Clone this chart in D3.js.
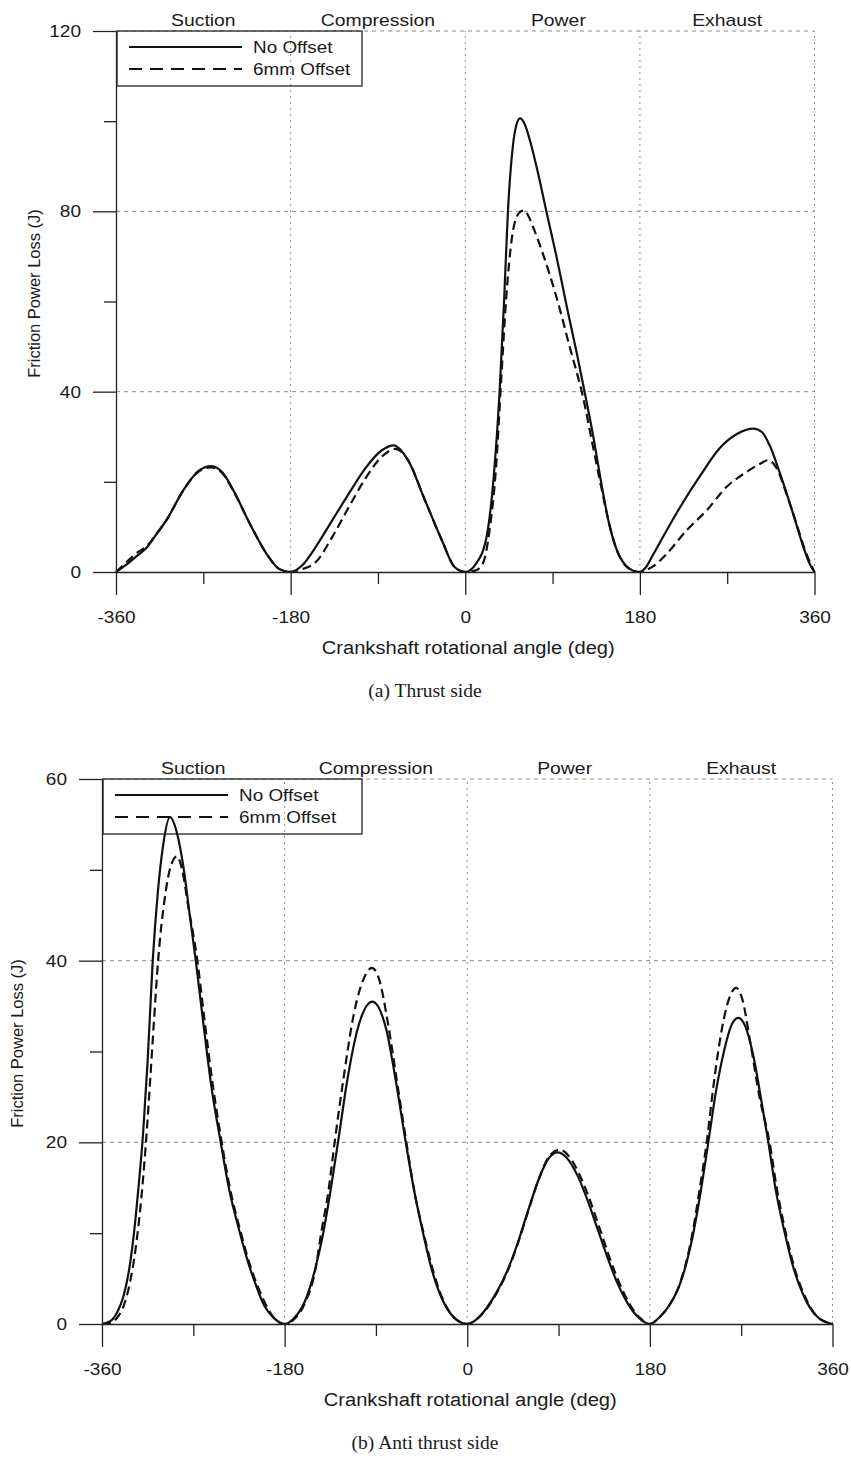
<!DOCTYPE html>
<html>
<head>
<meta charset="utf-8">
<script src="https://cdn.jsdelivr.net/npm/d3@7"></script>
<style>
  body { margin: 0; background: #fff; }
  text { font-family: "Liberation Sans", Arial, sans-serif; fill: #1a1a1a; }
</style>
</head>
<body>
<div id="chart"></div>
<script>
// ---- data ----
var angleTicks = [-360, -180, 0, 180, 360];
var angleMinorTicks = [-270, -90, 90, 270];
var phaseNames = ["Suction", "Compression", "Power", "Exhaust"];
var phaseAngles = [-270, -90, 96, 270];
var seriesNames = ["No Offset", "6mm Offset"];

var thrustTicks = [0, 40, 80, 120];
var thrustMinorTicks = [20, 60, 100];
var antiTicks = [0, 20, 40, 60];
var antiMinorTicks = [10, 30, 50];

// (a) thrust side, [angle, J]
var thrustNoOffset = [
  [-360, 0], [-350, 1.5], [-340, 3.3], [-328, 5.5], [-318, 8.5], [-308, 11.5], [-291, 18], [-274, 22.6],
  [-262, 23.5], [-250, 22], [-239, 18.1], [-222, 10.7], [-205, 4.1], [-192, 0.7], [-180, 0],
  [-168, 1.5], [-154, 5.6], [-137, 11.5], [-120, 17.4], [-103, 23], [-86, 27], [-74, 28.1], [-59, 24.8],
  [-41.5, 15.9], [-24, 7], [-11, 1.1], [0, 0],
  [11, 1.8], [22, 7.8], [29, 20.3], [35.4, 40], [40, 60], [44, 80], [49, 94.3], [52.5, 99], [56.5, 100.6],
  [61, 99.5], [67, 95.5], [75, 88.5], [83.6, 80], [95, 69], [105, 58.5], [115, 48.5], [123, 40], [132, 30],
  [140, 20], [148, 11], [156, 5], [165, 1.5], [173, 0.3], [180, 0],
  [186, 1], [193, 3.6], [200, 6.3], [221, 14.2], [242, 21.3], [262, 27.4], [280, 30.6], [297, 31.8],
  [306, 31], [314, 28], [324.5, 21.8], [338, 12.9], [348.6, 5.5], [355, 1.8], [360, 0]
];
var thrustOffset = [
  [-360, 0], [-350, 2], [-340, 4], [-328, 5.8], [-318, 8.5], [-308, 11.5], [-291, 18], [-274, 22.4],
  [-262, 23.2], [-250, 21.8], [-239, 18], [-222, 10.7], [-205, 4.1], [-192, 0.7], [-180, 0],
  [-170, 0.5], [-154, 2.2], [-137, 7.8], [-120, 14.4], [-103, 20.7], [-86, 25.6], [-72, 27.3], [-59, 24.8],
  [-41.5, 15.9], [-24, 7], [-11, 1.1], [0, 0],
  [10, 0.3], [18, 1.8], [25, 9.2], [32, 24], [37, 42.5], [42.3, 61], [48, 74], [53, 78.8], [57.5, 80],
  [61, 80.2], [65, 79], [70, 76.5], [80, 70.6], [94, 61], [107.7, 49.9], [121.4, 38.8], [131.8, 27.7],
  [140, 19], [148, 11], [156, 5], [165, 1.5], [173, 0.3], [180, 0],
  [187, 0.5], [194, 1.3], [207.5, 4], [228, 9.2], [249, 13.7], [269.5, 18.9], [290, 22.2], [304, 24],
  [312, 24.8], [321, 23], [331, 17.4], [341.4, 10.7], [351.7, 4], [360, 0]
];

// (b) anti thrust side, [angle, J]
var antiNoOffset = [
  [-360, 0], [-352, 0.3], [-345, 1.3], [-339, 3], [-334, 5.5], [-329, 9.5], [-324.5, 14.5], [-319.5, 21],
  [-315, 29], [-310, 40], [-305, 47.5], [-300, 52.5], [-293, 55.8], [-286, 54], [-280, 50.5], [-273.5, 45],
  [-267.6, 40], [-260, 33], [-252, 26], [-243, 20], [-235, 15], [-224, 10], [-216, 6.8], [-207.7, 4.1],
  [-200, 2], [-191, 0.7], [-180, 0],
  [-172, 0.5], [-160, 2.5], [-150, 6], [-142, 10], [-135, 14.5], [-127.4, 20], [-118, 27], [-108, 32.5],
  [-93.5, 35.5], [-80, 32.5], [-70, 26.5], [-60.6, 20], [-52, 14.5], [-43.5, 10], [-35, 6], [-25, 2.8],
  [-13, 0.7], [0, 0],
  [10, 0.6], [20, 1.9], [30, 3.7], [40, 6], [50, 9], [60, 12.5], [70, 15.8], [80, 18.2], [89, 18.9],
  [98, 18.3], [108, 16.5], [118, 13.8], [128, 10.6], [138, 7.4], [148, 4.5], [158, 2.3], [168, 0.8], [180, 0],
  [190, 0.8], [200, 2.2], [210, 4.5], [222.8, 10], [230, 14.5], [237.6, 20], [245, 25.5], [253, 30],
  [260, 32.8], [267, 33.7], [274, 32.8], [282, 29.5], [290, 24.5], [296.8, 20], [304, 14.8], [313, 10],
  [322, 6], [332, 3], [345, 0.8], [360, 0]
];
var antiOffset = [
  [-360, 0], [-352, 0.1], [-345, 0.7], [-338, 2.2], [-332, 4.8], [-327, 8.2], [-322, 13], [-317, 19.5],
  [-313, 26], [-309, 33], [-304.7, 40], [-298, 47], [-292, 50.5], [-286, 51.5], [-281, 50], [-275, 46],
  [-266, 40], [-259, 33.5], [-251, 26.5], [-242, 20], [-234, 15], [-223, 10], [-215, 6.8], [-206, 4],
  [-198, 2], [-190, 0.6], [-180, 0],
  [-172, 0.4], [-160, 2.3], [-150, 5.8], [-144, 10], [-137, 14.5], [-130.7, 20], [-122, 27], [-112, 34],
  [-100, 38.5], [-94, 39.2], [-87, 38], [-78, 33], [-69, 26.5], [-60, 20], [-52, 14.5], [-43, 10],
  [-34, 6], [-24, 2.7], [-12, 0.6], [0, 0],
  [10, 0.6], [20, 1.8], [30, 3.6], [40, 5.9], [50, 8.9], [60, 12.4], [70, 15.8], [81, 18.5], [91, 19.2],
  [100, 18.5], [110, 16.6], [120, 13.9], [130, 10.7], [140, 7.4], [150, 4.5], [160, 2.2], [170, 0.7], [180, 0],
  [190, 0.8], [200, 2.2], [210, 4.6], [222, 10], [229, 14.8], [236, 20], [243, 26.5], [251, 32.5],
  [258, 35.8], [265, 37], [271, 35.8], [279, 31], [288, 25], [298, 20], [305, 15], [314, 10], [323, 6],
  [333, 3], [345, 0.8], [360, 0]
];

var drawPanels = (function() {

    var dashes = ["none", "9,5"];

    // widen text a little, the source figure uses a broad sans face
    function stretch(sel, f) {
        sel.each(function() {
            var w = this.getComputedTextLength();
            d3.select(this)
                .attr("textLength", w * f)
                .attr("lengthAdjust", "spacingAndGlyphs");
        });
    }

    // dotted grid inside the plot
    function addGrid(g, x, y, yTicks) {
        g.selectAll(".vgrid")
            .data(angleTicks.slice(1))
            .enter().append("line")
            .attr("x1", d => x(d)).attr("x2", d => x(d))
            .attr("y1", y.range()[0]).attr("y2", y.range()[1])
            .style("stroke", "#8a8a8a")
            .style("stroke-width", 1)
            .style("stroke-dasharray", "2,4");
        g.selectAll(".hgrid")
            .data(yTicks.slice(1))
            .enter().append("line")
            .attr("x1", x.range()[0]).attr("x2", x.range()[1])
            .attr("y1", d => y(d)).attr("y2", d => y(d))
            .style("stroke", "#8a8a8a")
            .style("stroke-width", 1)
            .style("stroke-dasharray", "4,4");
    }

    // axes with long major and short minor ticks
    function addAxes(g, x, y, p) {
        g.append("g")
            .attr("transform", "translate(" + x.range()[0] + ",0)")
            .call(d3.axisLeft(y).tickValues(p.yTicks).tickFormat(d => String(d))
                .tickSizeInner(23).tickSizeOuter(0).tickPadding(12));
        g.append("g")
            .attr("transform", "translate(" + x.range()[0] + ",0)")
            .call(d3.axisLeft(y).tickValues(p.yMinor).tickSize(12).tickFormat(""))
            .select(".domain").remove();

        g.append("g")
            .attr("transform", "translate(0," + y.range()[0] + ")")
            .call(d3.axisBottom(x).tickValues(angleTicks).tickFormat(d => String(d))
                .tickSizeInner(23).tickSizeOuter(0).tickPadding(16));
        g.append("g")
            .attr("transform", "translate(0," + y.range()[0] + ")")
            .call(d3.axisBottom(x).tickValues(angleMinorTicks).tickSize(12).tickFormat(""))
            .select(".domain").remove();

        g.selectAll(".tick line, .domain")
            .style("stroke", "#222")
            .style("stroke-width", 1.3);
        var labels = g.selectAll(".tick text")
            .style("font-family", "'Liberation Sans', Arial, sans-serif")
            .style("font-size", "17px")
            .style("fill", "#1a1a1a");
        stretch(labels, 1.12);

        // axis titles
        g.append("text")
            .attr("x", (x.range()[0] + x.range()[1]) / 2 + 3)
            .attr("y", y.range()[0] + 82)
            .attr("text-anchor", "middle")
            .attr("textLength", 293)
            .attr("lengthAdjust", "spacingAndGlyphs")
            .style("font-size", "18px")
            .text("Crankshaft rotational angle (deg)");
        g.append("text")
            .attr("transform", "translate(" + p.titleX + "," + ((y.range()[0] + y.range()[1]) / 2 - 8) + ") rotate(-90)")
            .attr("text-anchor", "middle")
            .style("font-size", "16.5px")
            .text("Friction Power Loss (J)");

        // stroke phases above the plot
        var phases = g.selectAll(".phase")
            .data(phaseNames)
            .enter().append("text")
            .attr("x", (d, i) => x(phaseAngles[i]))
            .attr("y", y.range()[1] - 5)
            .attr("text-anchor", "middle")
            .style("font-size", "17px")
            .text(d => d);
        stretch(phases, 1.14);
    }

    function addLines(g, x, y, series) {
        var line = d3.line()
            .x(d => x(d[0]))
            .y(d => y(d[1]))
            .curve(d3.curveMonotoneX);
        series.forEach(function(s, i) {
            g.append("path")
                .datum(s)
                .attr("d", line)
                .style("fill", "none")
                .style("stroke", "#111")
                .style("stroke-width", 2.2)
                .style("stroke-dasharray", dashes[i]);
        });
    }

    function addLegend(g, left, top, w) {
        var lg = g.append("g").attr("transform", "translate(" + left + "," + top + ")");
        lg.append("rect")
            .attr("width", w).attr("height", 55)
            .style("fill", "none")
            .style("stroke", "#333")
            .style("stroke-width", 1.4);
        seriesNames.forEach(function(name, i) {
            lg.append("line")
                .attr("x1", 12).attr("x2", 125)
                .attr("y1", 16 + i * 22).attr("y2", 16 + i * 22)
                .style("stroke", "#111")
                .style("stroke-width", 2.2)
                .style("stroke-dasharray", i ? "13,8" : "none");
            var t = lg.append("text")
                .attr("x", 136).attr("y", 22 + i * 22)
                .style("font-size", "16px")
                .text(name);
            stretch(t, 1.18);
        });
    }

    function panel(svg, p) {
        var g = svg.append("g");
        var x = d3.scaleLinear().domain([-360, 360]).range([p.left, p.right]);
        var y = d3.scaleLinear().domain([0, p.yMax]).range([p.bottom, p.top]);

        addGrid(g, x, y, p.yTicks);
        addLegend(g, p.left + 1, p.top, p.legendW);
        addLines(g, x, y, p.series);
        addAxes(g, x, y, p);

        g.append("text")
            .attr("x", 425)
            .attr("y", p.bottom + 125)
            .attr("text-anchor", "middle")
            .style("font-family", "'Liberation Serif', 'Times New Roman', serif")
            .style("font-size", "19.5px")
            .text(p.caption);
    }

    return {
        render: function(placement) {
            d3.select(placement).html("");
            var svg = d3.select(placement).append("svg")
                .attr("width", 851)
                .attr("height", 1464);

            panel(svg, {
                left: 116, right: 814.5, top: 31, bottom: 572, yMax: 120,
                yTicks: thrustTicks, yMinor: thrustMinorTicks,
                series: [thrustNoOffset, thrustOffset],
                titleX: 40, legendW: 245, caption: "(a) Thrust side"
            });
            panel(svg, {
                left: 102, right: 832.5, top: 779, bottom: 1324, yMax: 60,
                yTicks: antiTicks, yMinor: antiMinorTicks,
                series: [antiNoOffset, antiOffset],
                titleX: 23, legendW: 259, caption: "(b) Anti thrust side"
            });
        }
    };
})();

drawPanels.render("#chart");
</script>
</body>
</html>
